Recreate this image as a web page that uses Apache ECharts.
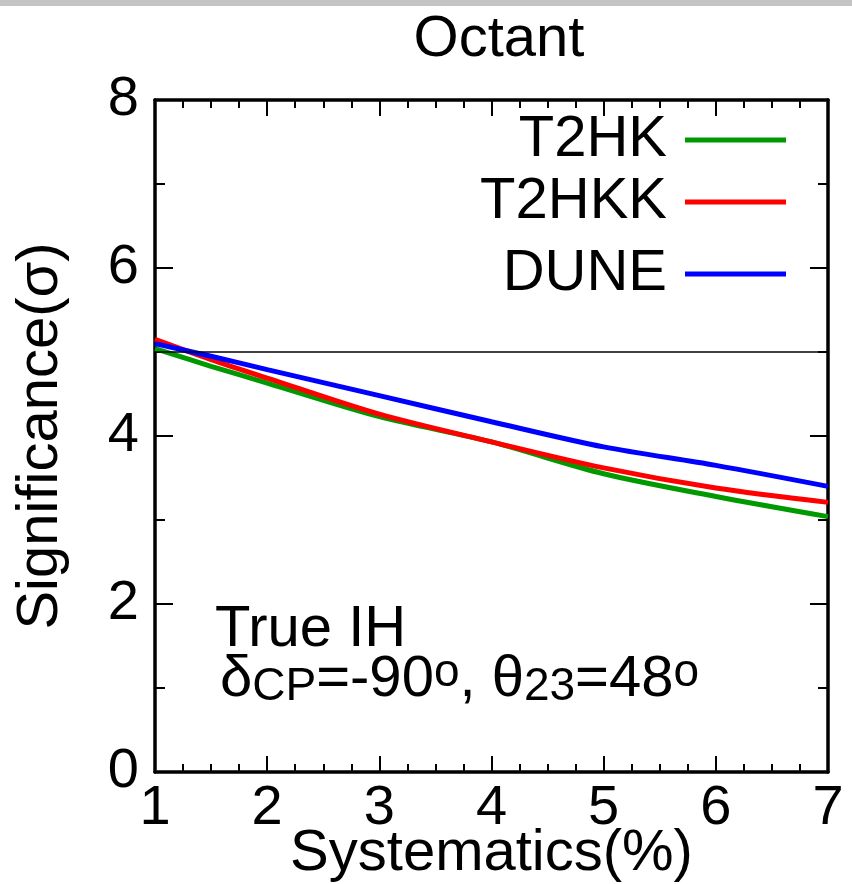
<!DOCTYPE html>
<html>
<head>
<meta charset="utf-8">
<script src="https://cdn.jsdelivr.net/npm/echarts@6/dist/echarts.min.js"></script>
<style>
  html, body { margin: 0; padding: 0; background: #fff; }
  #chart { width: 852px; height: 884px; }
</style>
</head>
<body>
<div id="chart"></div>
<script>
// systematics (%) on x, significance (sigma) on y
const xVals = [1, 1.5, 2, 3, 4, 5, 6, 7]
const t2hk = [5.04, 4.83, 4.63, 4.23, 3.93, 3.55, 3.28, 3.04]
const t2hkk = [5.15, 4.91, 4.69, 4.26, 3.93, 3.62, 3.38, 3.21]
const dune = [5.10, 4.95, 4.79, 4.48, 4.17, 3.87, 3.65, 3.40]
const seriesNames = ["T2HK", "T2HKK", "DUNE"]
const seriesColors = ["#009a00", "#ff0000", "#0000ff"]
const refSigma = 5

const FONT = "Liberation Sans, Arial, sans-serif"

const pairs = (ys) => xVals.map((x, i) => [x, ys[i]])

const myChart = echarts.init(document.getElementById("chart"), null, { renderer: "canvas" })

const frameLine = { show: true, onZero: false, lineStyle: { color: "#000", width: 3.5 } }

const legends = seriesNames.map((name, i) => ({
  data: [name],
  right: 66,
  top: [110, 172, 244][i],
  padding: 0,
  align: "right",
  icon: "rect",
  itemWidth: 101,
  itemHeight: 5,
  textStyle: { fontFamily: FONT, fontSize: 58, color: "#000", lineHeight: 60, padding: [0, 13, 0, 0] }
}))

const option = {
  backgroundColor: "#fff",
  animation: false,
  title: {
    text: "Octant",
    left: 494,
    textAlign: "center",
    top: 6,
    textStyle: { fontFamily: FONT, fontSize: 58, fontWeight: "normal", color: "#000" }
  },
  legend: legends,
  grid: { left: 155, right: 24, top: 100, bottom: 112, outerBoundsMode: "none", containLabel: false },
  xAxis: [
    {
      type: "value",
      min: 1,
      max: 7,
      interval: 1,
      name: "Systematics(%)",
      nameLocation: "middle",
      nameGap: 53,
      nameMoveOverlap: false,
      nameTextStyle: { fontFamily: FONT, fontSize: 58, color: "#000" },
      axisLine: frameLine,
      axisTick: { inside: true, length: 16, lineStyle: { color: "#000", width: 2 } },
      minorTick: { show: true, splitNumber: 4, length: 8, lineStyle: { color: "#000", width: 2 } },
      axisLabel: { fontFamily: FONT, fontSize: 56, color: "#000", margin: 9 },
      splitLine: { show: false }
    },
    {
      type: "value",
      position: "top",
      min: 1,
      max: 7,
      interval: 1,
      axisLine: frameLine,
      axisTick: { inside: true, length: 16, lineStyle: { color: "#000", width: 2 } },
      minorTick: { show: true, splitNumber: 4, length: 8, lineStyle: { color: "#000", width: 2 } },
      axisLabel: { show: false },
      splitLine: { show: false }
    }
  ],
  yAxis: [
    {
      type: "value",
      min: 0,
      max: 8,
      interval: 2,
      name: "Significance(σ)",
      nameLocation: "middle",
      nameGap: 85,
      nameMoveOverlap: false,
      nameTextStyle: { fontFamily: FONT, fontSize: 58, color: "#000" },
      axisLine: frameLine,
      axisTick: { inside: true, length: 18, lineStyle: { color: "#000", width: 2 } },
      minorTick: { show: true, splitNumber: 2, length: 10, lineStyle: { color: "#000", width: 2 } },
      axisLabel: { fontFamily: FONT, fontSize: 56, color: "#000", margin: 16 },
      splitLine: { show: false }
    },
    {
      type: "value",
      position: "right",
      min: 0,
      max: 8,
      interval: 2,
      axisLine: frameLine,
      axisTick: { inside: true, length: 18, lineStyle: { color: "#000", width: 2 } },
      minorTick: { show: true, splitNumber: 2, length: 10, lineStyle: { color: "#000", width: 2 } },
      axisLabel: { show: false },
      splitLine: { show: false }
    }
  ],
  series: [t2hk, t2hkk, dune].map((ys, i) => ({
    name: seriesNames[i],
    type: "line",
    data: pairs(ys),
    smooth: 0.3,
    symbol: "none",
    color: seriesColors[i],
    lineStyle: { width: 5, color: seriesColors[i] },
    markLine: i === 0 ? {
      silent: true,
      symbol: "none",
      label: { show: false },
      lineStyle: { color: "#000", width: 1.5, type: "solid" },
      data: [{ yAxis: refSigma }]
    } : undefined,
    z: 2 + i
  })),
  graphic: [
    {
      type: "rect",
      left: 0,
      top: 0,
      shape: { width: 852, height: 6 },
      style: { fill: "#c4c4c4" },
      silent: true
    },
    {
      type: "text",
      left: 215,
      top: 601,
      style: { text: "True IH", font: "58px " + FONT, fill: "#000" }
    },
    {
      type: "text",
      left: 220,
      top: 650,
      style: {
        text: "{n|δ}{sub|CP}{n|=-90}{sup|o}{n|, θ}{sub|23}{n|=48}{sup|o}",
        fill: "#000",
        rich: {
          n: { fontFamily: FONT, fontSize: 58, lineHeight: 60 },
          sub: { fontFamily: FONT, fontSize: 46, lineHeight: 34, verticalAlign: "bottom" },
          sup: { fontFamily: FONT, fontSize: 46, lineHeight: 42, verticalAlign: "top" }
        }
      }
    }
  ]
}

myChart.setOption(option)
</script>
</body>
</html>
